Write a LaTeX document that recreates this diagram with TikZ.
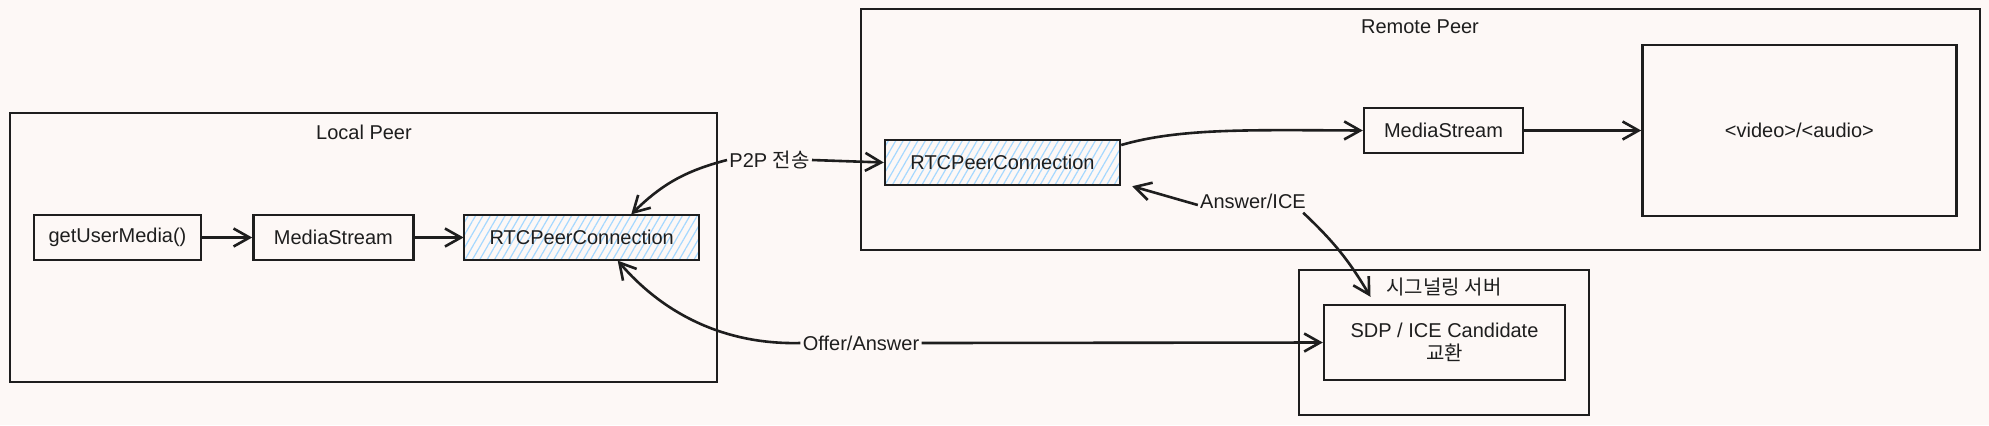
\documentclass[tikz,border=0pt]{standalone}
\usepackage{fontspec}
\setmainfont{Liberation Sans}
\newfontfamily\kr{Noto Sans CJK KR}
\usetikzlibrary{positioning,arrows.meta,patterns.meta}
\definecolor{paper}{HTML}{FDF8F6}
\definecolor{ink}{HTML}{1E1E1E}
\definecolor{hatch}{HTML}{A5D8FF}

\begin{document}
\begin{tikzpicture}[
    x=0.5pt, y=-0.5pt,
    >={Straight Barb[length=8pt,width=9pt]},
    link/.style={draw=ink, line width=1.3pt},
    group/.style={draw=ink, line width=1pt, inner sep=0pt},
    box/.style={draw=ink, line width=1.2pt, minimum height=22.5pt, inner sep=0pt, align=center},
    rtc/.style={box, minimum width=117.5pt,
                pattern={Lines[angle=60, distance=3.2pt, line width=0.6pt]}, pattern color=hatch},
    caption/.style={inner sep=1pt},
    every node/.style={text=ink, font=\fontsize{10}{11.5}\selectfont}]

    \fill[paper] (0,0) rectangle (1989,425);
    \useasboundingbox (0,0) rectangle (1989,425);

    \node[group, minimum width=353.5pt, minimum height=134.5pt] (localpeer) at (363.5,247.5) {};
    \node[caption] (localtitle) at (364,132) {Local Peer};
    \node[group, minimum width=559.5pt, minimum height=120.5pt] (remotepeer) at (1420.5,129.5) {};
    \node[caption] (remotetitle) at (1420,27) {Remote Peer};
    \node[group, minimum width=145pt, minimum height=72.5pt] (signal) at (1444,342.5) {};
    \node[caption] (signaltitle) at (1444,287) {\kr 시그널링 서버};

    \node[box, minimum width=83.5pt] (gum) at (117.5,237.5) {getUserMedia()};
    \node[box, minimum width=80pt, right=25pt of gum] (msl) {MediaStream};
    \node[rtc, right=24.5pt of msl] (rtcl) {RTCPeerConnection};

    \node[rtc] (rtcr) at (1002.5,162.5) {RTCPeerConnection};
    \node[box, minimum width=79.5pt] (msr) at (1443.5,130.5) {MediaStream};
    \node[box, minimum width=157pt, minimum height=85.5pt, right=58.5pt of msr] (player) {<video>/<audio>};

    \node[box, minimum width=120.5pt, minimum height=37.5pt] (sdp) at (1444.5,342.5) {SDP / ICE Candidate\\{\kr 교환}};

    \node[caption] (p2p) at (769.5,160) {P2P {\kr 전송}};
    \node[caption] (answer) at (1253,201) {Answer/ICE};
    \node[caption] (offer) at (861,343) {Offer/Answer};

    \draw[link, ->] (gum) -- (msl);
    \draw[link, ->] (msl) -- (rtcl);
    \draw[link, ->] (p2p.west) to[bend right=15] ([xshift=24.75pt]rtcl.north);
    \draw[link, ->] (p2p.east) -- (rtcr.west);
    \draw[link, ->] ([yshift=8.75pt]rtcr.east) .. controls (1180,128) and (1250,130) .. (msr.west);
    \draw[link, ->] (msr) -- (player);
    \draw[link, ->] ([yshift=-2pt]answer.west) -- ([xshift=5.5pt]rtcr.south east);
    \draw[link, ->] ([xshift=-2.5pt, yshift=-1pt]answer.south east) to[bend left=8] ([xshift=-37pt, yshift=3.5pt]sdp.north);
    \draw[link, ->] (offer.west) .. controls (720,345) and (660,310) .. ([xshift=18pt]rtcl.south);
    \draw[link, ->] (offer.east) -- (sdp.west);

\end{tikzpicture}
\end{document}
